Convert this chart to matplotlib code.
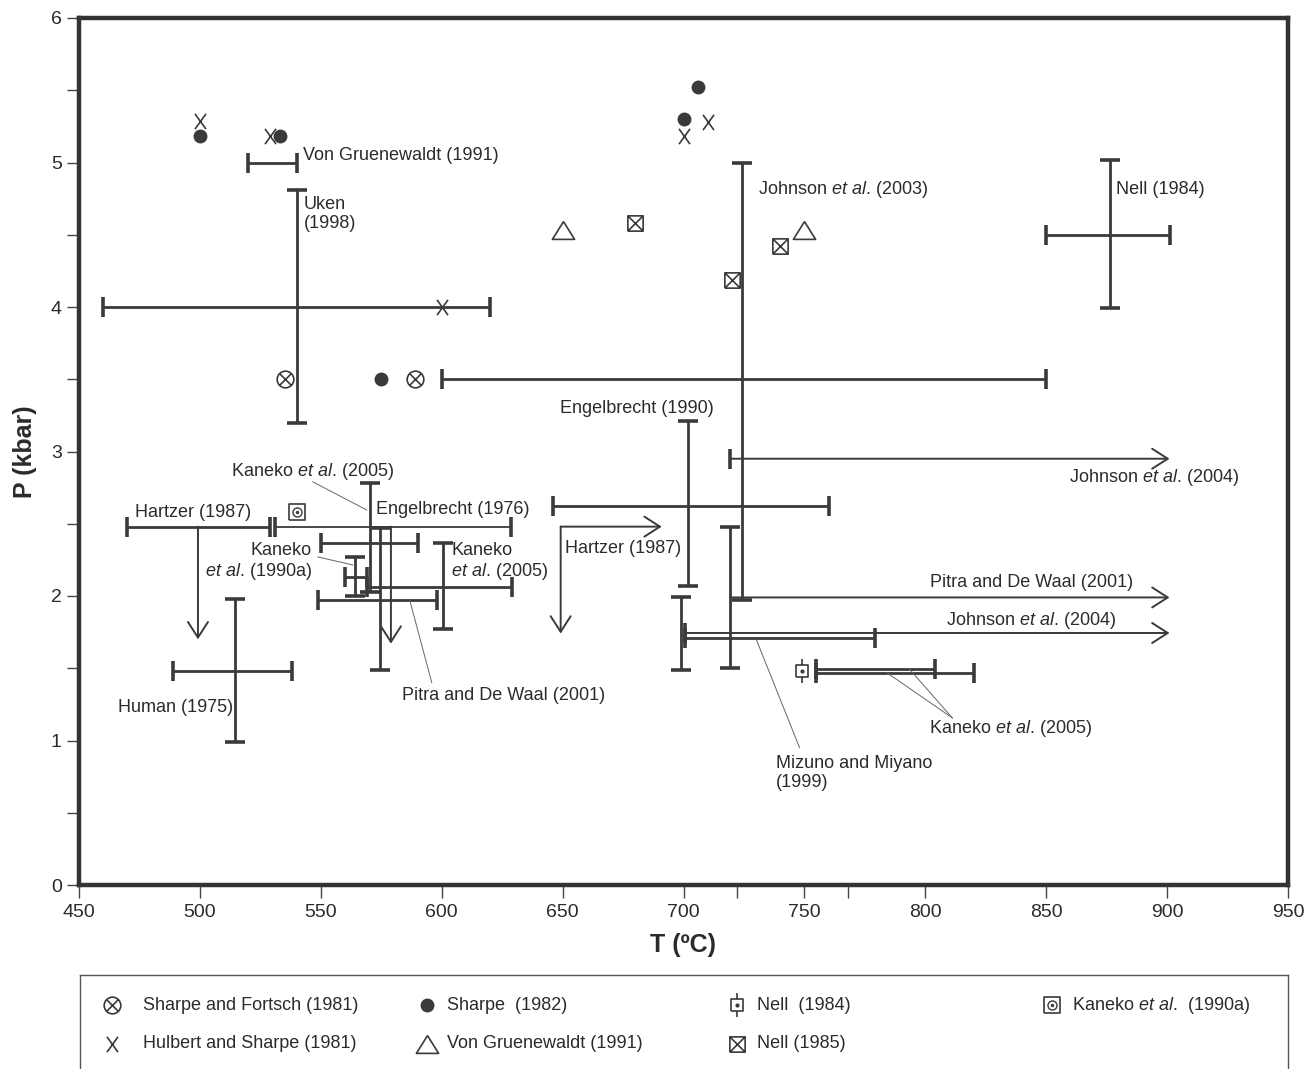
import numpy as np
import matplotlib.pyplot as plt
from matplotlib.path import Path

plt.rcParams['font.family'] = ['Liberation Sans', 'DejaVu Sans']
plt.rcParams['mathtext.fontset'] = 'custom'
plt.rcParams['mathtext.rm'] = 'Liberation Sans'
plt.rcParams['mathtext.it'] = 'Liberation Sans:italic'

# ---- point data (T in deg C, P in kbar) ----
sf_T = [535, 589]                      # Sharpe and Fortsch (1981)
sf_P = [3.5, 3.5]
sharpe_T = [500, 533, 575, 700, 706]   # Sharpe (1982)
sharpe_P = [5.18, 5.18, 3.5, 5.30, 5.52]
hs_T = [500, 529, 600, 700, 710]       # Hulbert and Sharpe (1981)
hs_P = [5.29, 5.18, 4.0, 5.18, 5.28]
vg_T = [650, 750]                      # Von Gruenewaldt (1991)
vg_P = [4.53, 4.53]
nell85_T = [680, 740, 720]             # Nell (1985)
nell85_P = [4.58, 4.42, 4.19]
nell84_T = [749]                       # Nell (1984)
nell84_P = [1.48]
kan90_T = [540]                        # Kaneko et al. (1990a)
kan90_P = [2.58]

# ---- horizontal ranges (P, Tmin, Tmax) ----
hb_P = [5.0, 4.0, 3.5, 4.5, 2.62, 2.48, 2.37, 2.06, 2.13, 1.97, 1.48, 1.71, 1.495, 1.467]
hb_T0 = [520, 460, 600, 850, 646, 470, 550, 569, 560, 549, 489, 700.5, 755, 755]
hb_T1 = [540, 620, 850, 901, 760, 529, 590, 629, 569, 598, 538, 779, 804, 820]
# Engelbrecht (1976), thinner line
eng76_P = 2.48
eng76_T = [531, 628.5]

# ---- vertical ranges (T, Pmin, Pmax) ----
vb_T = [540, 724, 876.4, 702, 719.2, 699, 570.2, 574.4, 600.4, 564, 514.5]
vb_P0 = [3.20, 1.97, 3.99, 2.07, 1.50, 1.49, 2.03, 1.49, 1.77, 2.00, 0.99]
vb_P1 = [4.81, 5.00, 5.02, 3.21, 2.48, 1.99, 2.78, 2.47, 2.37, 2.27, 1.98]

# ---- open-ended arrows (start T, start P, end T, end P) ----
ar_T0 = [719.3, 719.2, 700.5, 649.2, 649.2, 499.2, 579]
ar_P0 = [2.95, 1.99, 1.744, 2.48, 2.48, 2.48, 2.48]
ar_T1 = [901, 901, 901, 691, 649.2, 499.2, 579]
ar_P1 = [2.95, 1.99, 1.744, 2.48, 1.74, 1.70, 1.67]
ar_capped = [0, 2]   # Johnson et al. (2004) arrows start with a bar

# ---- leader lines ----
ld_T0 = [546.7, 548.8, 586.8, 730.2, 811.2, 811.2]
ld_P0 = [2.79, 2.27, 1.97, 1.695, 1.156, 1.156]
ld_T1 = [569, 563.2, 595.9, 748, 784.3, 793.4]
ld_P1 = [2.595, 2.215, 1.40, 0.95, 1.467, 1.495]

C = '#3a3a3a'
TC = '#2b2b2b'
FS = 13

# custom marker shapes
circ_x = Path.make_compound_path(
    Path.unit_circle(),
    Path([(-.707, -.707), (.707, .707), (-.707, .707), (.707, -.707)], [1, 2, 1, 2]))
letter_x = Path([(-.72, -1), (.72, 1), (-.72, 1), (.72, -1)], [1, 2, 1, 2])
tri = Path([(0, .8), (-1, -.8), (1, -.8), (0, .8)], [1, 2, 2, 2])
box_x = Path([(-1, -1), (1, -1), (1, 1), (-1, 1), (-1, -1), (-1, -1), (1, 1), (-1, 1), (1, -1)],
             [1, 2, 2, 2, 2, 1, 2, 1, 2])
box_tick = Path([(-.5, -.5), (.5, -.5), (.5, .5), (-.5, .5), (-.5, -.5),
                 (0, .5), (0, 1), (0, -.5), (0, -1)],
                [1, 2, 2, 2, 2, 1, 2, 1, 2])
box = Path([(-1, -1), (1, -1), (1, 1), (-1, 1), (-1, -1)], [1, 2, 2, 2, 2])


def draw_series(a, key, T, P):
    kw = dict(ls='none', color=C, mec=C)
    if key == 'sf':
        a.plot(T, P, marker=circ_x, ms=12, mfc='none', mew=1.2, **kw)
    elif key == 'sharpe':
        a.plot(T, P, marker='o', ms=10, mfc=C, mew=0, **kw)
    elif key == 'hs':
        a.plot(T, P, marker=letter_x, ms=11, mfc='none', mew=1.2, **kw)
    elif key == 'vg':
        a.plot(T, P, marker=tri, ms=16, mfc='none', mew=1.2, **kw)
    elif key == 'nell85':
        a.plot(T, P, marker=box_x, ms=11, mfc='none', mew=1.2, **kw)
    elif key == 'nell84':
        a.plot(T, P, marker=box_tick, ms=17, mfc='white', mew=1.2, **kw)
        a.plot(T, P, marker='o', ms=3, mfc=C, mew=0, **kw)
    elif key == 'kan90':
        a.plot(T, P, marker=box, ms=11, mfc='white', mew=1.2, **kw)
        a.plot(T, P, marker='o', ms=6.5, mfc='none', mew=1.0, **kw)
        a.plot(T, P, marker='o', ms=2.5, mfc=C, mew=0, **kw)


fig = plt.figure(figsize=(13.04, 10.69), dpi=100)
ax = fig.add_axes([79 / 1304, 1 - 885 / 1069, 1209 / 1304, 867 / 1069])

# horizontal bars
for p, t0, t1 in zip(hb_P, hb_T0, hb_T1):
    ax.plot([t0, t1], [p, p], color=C, lw=2.0, solid_capstyle='butt')
    ax.plot([t0, t1], [p, p], ls='none', marker='|', ms=14, mew=2.6, color=C)
ax.plot(eng76_T, [eng76_P, eng76_P], color=C, lw=1.3)
ax.plot(eng76_T, [eng76_P, eng76_P], ls='none', marker='|', ms=14, mew=2.6, color=C)

# vertical bars
for t, p0, p1 in zip(vb_T, vb_P0, vb_P1):
    ax.plot([t, t], [p0, p1], color=C, lw=2.0, solid_capstyle='butt')
    ax.plot([t, t], [p0, p1], ls='none', marker='_', ms=15, mew=2.6, color=C)

# arrows
for i, (t0, p0, t1, p1) in enumerate(zip(ar_T0, ar_P0, ar_T1, ar_P1)):
    ax.annotate('', xy=(t1, p1), xytext=(t0, p0),
                arrowprops=dict(arrowstyle='->,head_length=0.7,head_width=0.45',
                                color=C, lw=1.4, shrinkA=0, shrinkB=0, mutation_scale=16))
    if i in ar_capped:
        ax.plot([t0], [p0], marker='|', ms=14, mew=2.6, color=C)

# leader lines
for t0, p0, t1, p1 in zip(ld_T0, ld_P0, ld_T1, ld_P1):
    ax.plot([t0, t1], [p0, p1], color='#666666', lw=0.7)

# symbols
draw_series(ax, 'sf', sf_T, sf_P)
draw_series(ax, 'sharpe', sharpe_T, sharpe_P)
draw_series(ax, 'hs', hs_T, hs_P)
draw_series(ax, 'vg', vg_T, vg_P)
draw_series(ax, 'nell85', nell85_T, nell85_P)
draw_series(ax, 'nell84', nell84_T, nell84_P)
draw_series(ax, 'kan90', kan90_T, kan90_P)

# text labels
etal = r'$\mathit{et\ al}$.'
labels = [
    ('Von Gruenewaldt (1991)', 542.6, 5.045, 'left', 'center'),
    ('Uken\n(1998)', 543, 4.77, 'left', 'top'),
    ('Johnson ' + etal + ' (2003)', 731, 4.81, 'left', 'center'),
    ('Nell (1984)', 879, 4.81, 'left', 'center'),
    ('Engelbrecht (1990)', 680.6, 3.30, 'center', 'center'),
    ('Johnson ' + etal + ' (2004)', 929.8, 2.82, 'right', 'center'),
    ('Kaneko ' + etal + ' (2005)', 513, 2.865, 'left', 'center'),
    ('Hartzer (1987)', 473, 2.58, 'left', 'center'),
    ('Engelbrecht (1976)', 573, 2.60, 'left', 'center'),
    ('Hartzer (1987)', 651, 2.33, 'left', 'center'),
    ('Kaneko\n' + etal + ' (2005)', 604, 2.235, 'left', 'center'),
    ('Kaneko\n' + etal + ' (1990a)', 546.3, 2.235, 'right', 'center'),
    ('Pitra and De Waal (2001)', 583.5, 1.31, 'left', 'center'),
    ('Human (1975)', 466, 1.23, 'left', 'center'),
    ('Pitra and De Waal (2001)', 886, 2.09, 'right', 'center'),
    ('Johnson ' + etal + ' (2004)', 879, 1.83, 'right', 'center'),
    ('Kaneko ' + etal + ' (2005)', 801.6, 1.08, 'left', 'center'),
    ('Mizuno and Miyano\n(1999)', 738.4, 0.775, 'left', 'center'),
]
for txt, t, p, ha, va in labels:
    ax.text(t, p, txt, ha=ha, va=va, fontsize=FS, color=TC, multialignment=ha if ha != 'center' else 'center',
            linespacing=1.15)

ax.set_xlim(450, 950)
ax.set_ylim(0, 6)
ax.set_xticks(np.arange(450, 951, 50))
ax.set_xticks([722, 768], minor=True)
ax.set_yticks(np.arange(0, 7, 1))
ax.set_yticks(np.arange(0.5, 6, 1), minor=True)
ax.tick_params(axis='both', which='both', direction='out', length=9, width=1, color='#444444',
               labelsize=14, labelcolor=TC, top=False, right=False)
ax.tick_params(axis='x', pad=5)
for s in ax.spines.values():
    s.set_linewidth(3.2)
    s.set_color('#333333')

ax.set_xlabel('T (ºC)', fontsize=18, fontweight='bold', color=TC, labelpad=8)
ax.set_ylabel('P (kbar)', fontsize=18, fontweight='bold', color=TC, labelpad=10)

# ---- legend box ----
leg_names = ['Sharpe and Fortsch (1981)', 'Hulbert and Sharpe (1981)', 'Sharpe  (1982)',
             'Von Gruenewaldt (1991)', 'Nell  (1984)', 'Nell (1985)', 'Kaneko ' + etal + '  (1990a)']
leg_keys = ['sf', 'hs', 'sharpe', 'vg', 'nell84', 'nell85', 'kan90']
lg = fig.add_axes([80 / 1304, 0, 1208 / 1304, 94 / 1069])
lg.set_xlim(80, 1288)
lg.set_ylim(1069, 975)
lg.set_xticks([])
lg.set_yticks([])
for s in lg.spines.values():
    s.set_linewidth(1.0)
    s.set_color('#555555')
lg.spines['bottom'].set_visible(False)
col_x = [112, 427, 737, 1052]
row_y = [1005, 1044]
for i, (name, key) in enumerate(zip(leg_names, leg_keys)):
    cx = col_x[i // 2]
    ry = row_y[i % 2]
    draw_series(lg, key, [cx], [ry])
    lg.text(cx + (31 if i // 2 == 0 else 20), ry, name, ha='left', va='center', fontsize=FS, color=TC)

fig.savefig('out.png', dpi=100)
